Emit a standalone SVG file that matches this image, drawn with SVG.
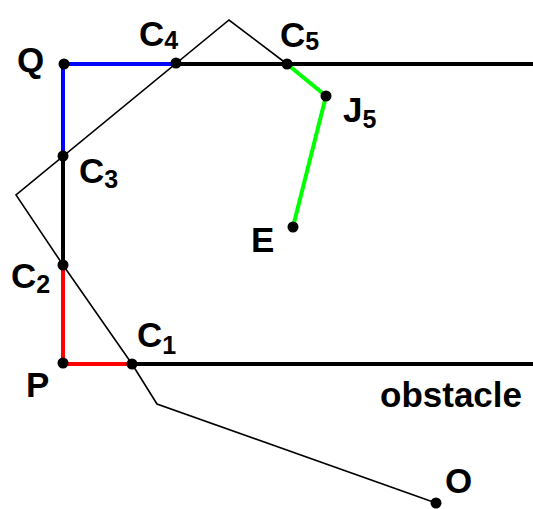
<svg xmlns="http://www.w3.org/2000/svg" width="533" height="509" viewBox="0 0 533 509">
<style>
.thin{fill:none;stroke:#000;stroke-width:1.6}
.thick{fill:none;stroke-width:4;stroke-linecap:butt}
.lbl{font-family:"Liberation Sans",Arial,sans-serif;font-weight:bold;font-size:35px;fill:#000}
.sub{font-size:25px}
.dot{fill:#000}
</style>
<rect width="533" height="509" fill="#fff"/>
<g id="connectors">
<polyline class="thin" points="436,503 157,404 132,364 63,265 16,195 229,20 287,64"/>
<line class="thick" x1="176" y1="64" x2="533" y2="64" stroke="#000"/>
<line class="thick" x1="132" y1="364" x2="533" y2="364" stroke="#000"/>
<line class="thick" x1="63" y1="156" x2="63" y2="265" stroke="#000"/>
<polyline class="thick" points="63,156 63,64 176,64" stroke="#0000ff"/>
<polyline class="thick" points="63,265 63,364 132,364" stroke="#ff0000"/>
<polyline class="thick" points="287,64 326,96 293,227" stroke="#00ff00"/>
</g>
<g id="Q"><circle class="dot" cx="64" cy="64" r="5.5"/><text class="lbl" x="17" y="72">Q</text></g>
<g id="C4"><circle class="dot" cx="176" cy="63" r="5.5"/><text class="lbl" x="139" y="46">C<tspan class="sub" dy="3">4</tspan></text></g>
<g id="C5"><circle class="dot" cx="287" cy="64" r="5.5"/><text class="lbl" x="280" y="47">C<tspan class="sub" dy="3">5</tspan></text></g>
<g id="J5"><circle class="dot" cx="326" cy="96" r="5.5"/><text class="lbl" x="343" y="122">J<tspan class="sub" dy="6">5</tspan></text></g>
<g id="C3"><circle class="dot" cx="63" cy="156" r="5.5"/><text class="lbl" x="79" y="183">C<tspan class="sub" dy="5">3</tspan></text></g>
<g id="E"><circle class="dot" cx="293" cy="227" r="5.5"/><text class="lbl" x="251" y="252">E</text></g>
<g id="C2"><circle class="dot" cx="63" cy="265" r="5.5"/><text class="lbl" x="11" y="288">C<tspan class="sub" dy="5">2</tspan></text></g>
<g id="C1"><circle class="dot" cx="132" cy="364" r="5.5"/><text class="lbl" x="137" y="347">C<tspan class="sub" dy="7">1</tspan></text></g>
<g id="P"><circle class="dot" cx="63" cy="363" r="5.5"/><text class="lbl" x="26" y="397">P</text></g>
<g id="O"><circle class="dot" cx="436" cy="503" r="5.5"/><text class="lbl" x="445" y="493">O</text></g>
<g id="obstacle"><text class="lbl" x="380" y="407" textLength="142" lengthAdjust="spacingAndGlyphs">obstacle</text></g>
</svg>
